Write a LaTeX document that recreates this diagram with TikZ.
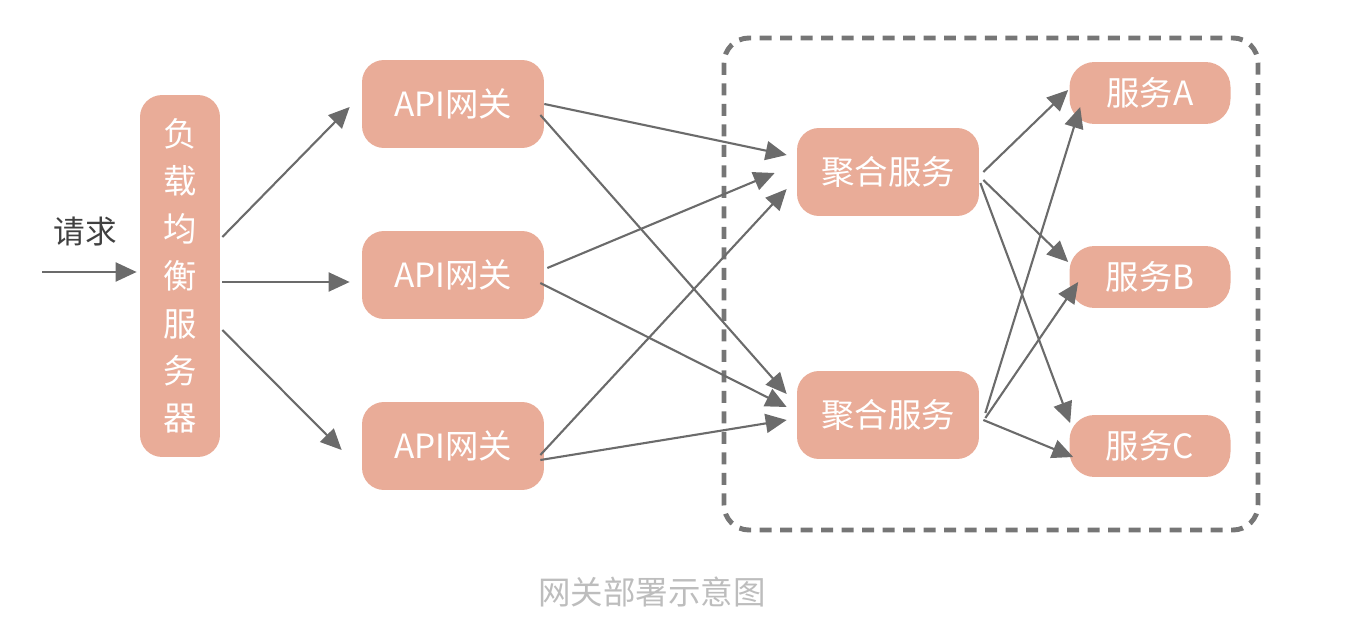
\documentclass[tikz,border=0pt]{standalone}
\usepackage{fontspec}
\newfontfamily\cjk{Noto Sans CJK SC}
\usetikzlibrary{arrows.meta,calc}
\definecolor{boxfill}{HTML}{E9AC98}
\definecolor{linegray}{HTML}{6B6B6B}
\definecolor{dashgray}{HTML}{767676}
\definecolor{captiongray}{HTML}{BDBDBD}
\tikzset{
  svcbox/.style={fill=boxfill, draw=none, rounded corners=0.44cm, text=white,
    font=\cjk\fontsize{19}{22}\selectfont, inner sep=0pt},
  flow/.style={-{Triangle[length=0.42cm,width=0.38cm]}, draw=linegray, fill=linegray, line width=1.2pt},
}
\begin{document}
\begin{tikzpicture}[x=0.02cm, y=-0.02cm]
            % Define frame
            \useasboundingbox (0,0) rectangle (1362,628);
            
            % Draw group frame
            \draw[dashgray, line width=2.8pt, dash pattern=on 0.24cm off 0.17cm, rounded corners=0.5cm]
                (724,38) rectangle (1258,530);
            
            % Define nodes
            \node[svcbox, minimum width=1.6cm, minimum height=7.24cm, align=center,
                font=\cjk\fontsize{19}{27}\selectfont] (lb) at (180,276)
                {负\\载\\均\\衡\\服\\务\\器};
            \node[svcbox, minimum width=3.64cm, minimum height=1.76cm] (api1) at (453,104) {API网关};
            \node[svcbox, minimum width=3.64cm, minimum height=1.76cm] (api2) at (453,275) {API网关};
            \node[svcbox, minimum width=3.64cm, minimum height=1.76cm] (api3) at (453,446) {API网关};
            \node[svcbox, minimum width=3.64cm, minimum height=1.76cm] (agg1) at (888,172) {聚合服务};
            \node[svcbox, minimum width=3.64cm, minimum height=1.76cm] (agg2) at (888,415) {聚合服务};
            \node[svcbox, minimum width=3.22cm, minimum height=1.24cm, rounded corners=0.5cm] (svca) at (1150,93) {服务A};
            \node[svcbox, minimum width=3.22cm, minimum height=1.24cm, rounded corners=0.5cm] (svcb) at (1150,277) {服务B};
            \node[svcbox, minimum width=3.22cm, minimum height=1.24cm, rounded corners=0.5cm] (svcc) at (1150,446) {服务C};
            
            % Request
            \coordinate (req) at (42,272);
            \node[font=\cjk\fontsize{18}{20}\selectfont, text=black!75] (reqlabel) at (85,232) {请求};
            \draw[flow] (req) -- ($(lb.west)+(-3,-4)$);
            
            % Draw arrows to gateways
            \draw[flow] ($(lb.east)+(2,-39)$) -- ($(api1.west)+(-12,3)$);
            \draw[flow] ($(lb.east)+(2,6)$) -- ($(api2.west)+(-12,7)$);
            \draw[flow] ($(lb.east)+(2,54)$) -- ($(api3.west)+(-20,4)$);
            
            % Draw arrows to aggregators
            \draw[flow] ($(api1.east)+(0,0)$) -- ($(agg1.west)+(-10,-17)$);
            \draw[flow] ($(api1.east)+(-4,11)$) -- ($(agg2.west)+(-10,-21)$);
            \draw[flow] ($(api2.east)+(3,-7)$) -- ($(agg1.west)+(-22,1)$);
            \draw[flow] ($(api2.east)+(-4,8)$) -- ($(agg2.west)+(-10,-8)$);
            \draw[flow] ($(api3.east)+(-4,9)$) -- ($(agg1.west)+(-10,17)$);
            \draw[flow] ($(api3.east)+(-4,14)$) -- ($(agg2.west)+(-10,5)$);
            
            % Draw arrows to services
            \draw[flow] ($(agg1.east)+(4,0)$) -- ($(svca.west)+(-1,-3)$);
            \draw[flow] ($(agg1.east)+(4,8)$) -- ($(svcb.west)+(-1,-15)$);
            \draw[flow] ($(agg1.east)+(1,11)$) -- ($(svcc.west)+(1,-23)$);
            \draw[flow] ($(agg2.east)+(6,-2)$) -- ($(svca.west)+(11,14)$);
            \draw[flow] ($(agg2.east)+(6,3)$) -- ($(svcb.west)+(9,5)$);
            \draw[flow] ($(agg2.east)+(4,5)$) -- ($(svcc.west)+(4,11)$);
            
            % Caption
            \node[font=\cjk\fontsize{18.5}{20}\selectfont, text=captiongray] (caption) at (652,592) {网关部署示意图};
        \end{tikzpicture}
\end{document}
